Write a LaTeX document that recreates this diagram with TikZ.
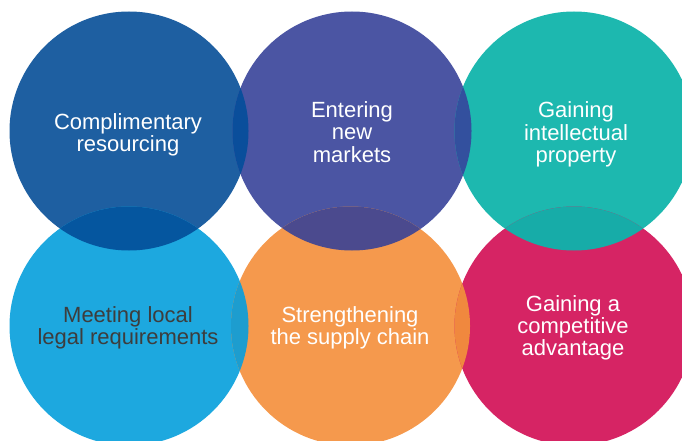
\documentclass[tikz,border=0pt]{standalone}
\usepackage{fontspec}
\setmainfont{Liberation Sans}
\definecolor{cA}{HTML}{1E5FA1}
\definecolor{cB}{HTML}{4B55A3}
\definecolor{cC}{HTML}{1DB8AF}
\definecolor{cD}{HTML}{1DA8DF}
\definecolor{cE}{HTML}{F5994D}
\definecolor{cF}{HTML}{D62464}
\definecolor{cAB}{HTML}{0A4E9B}
\definecolor{cBC}{HTML}{33509E}
\definecolor{cAD}{HTML}{05569F}
\definecolor{cBE}{HTML}{4B4A8E}
\definecolor{cCF}{HTML}{17ACA8}
\definecolor{cDE}{HTML}{1D9DCF}
\definecolor{cEF}{HTML}{F0883E}
\definecolor{txtdark}{HTML}{3D3D3D}
\tikzset{
  bubble/.style={circle, minimum size=239pt, inner sep=0pt, draw=none},
  label/.style={align=center, font=\fontsize{22}{22.3}\selectfont, text=white, inner sep=0pt},
}
\newcommand{\lens}[3]{%
  \begin{scope}
    \clip (#1) circle (119.5);
    \fill[#3] (#2) circle (119.5);
  \end{scope}}
\begin{document}
\begin{tikzpicture}[x=1pt,y=-1pt]
\useasboundingbox (0,0) rectangle (682,441);
\clip (0,0) rectangle (682,441);
\coordinate (pA) at (129,131);
\coordinate (pB) at (352,131);
\coordinate (pC) at (574,131);
\coordinate (pD) at (129,326);
\coordinate (pE) at (350.5,326);
\coordinate (pF) at (574,326);
\node[bubble, fill=cA] (A) at (pA) {};
\node[bubble, fill=cB] (B) at (pB) {};
\node[bubble, fill=cC] (C) at (pC) {};
\node[bubble, fill=cD] (D) at (pD) {};
\node[bubble, fill=cE] (E) at (pE) {};
\node[bubble, fill=cF] (F) at (pF) {};
\lens{pA}{pB}{cAB}
\lens{pB}{pC}{cBC}
\lens{pA}{pD}{cAD}
\lens{pB}{pE}{cBE}
\lens{pC}{pF}{cCF}
\lens{pD}{pE}{cDE}
\lens{pE}{pF}{cEF}
\node[label] (tA) at (128,134.5) {Complimentary\\resourcing};
\node[label] (tB) at (352,132) {Entering\\new\\markets};
\node[label] (tC) at (576,134.5) {Gaining\\intellectual\\property};
\node[label, text=txtdark] (tD) at (128,328) {Meeting local\\legal requirements};
\node[label] (tE) at (350,328) {Strengthening\\the supply chain};
\node[label] (tF) at (573,328) {Gaining a\\competitive\\advantage};
\end{tikzpicture}
\end{document}
